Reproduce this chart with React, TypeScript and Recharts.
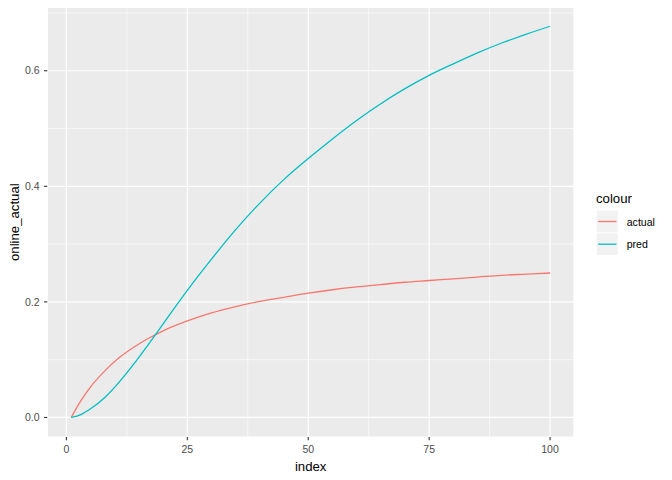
import {
  LineChart,
  Line,
  XAxis,
  YAxis,
  CartesianGrid,
  ReferenceLine,
  Legend
} from 'recharts';

// values
const indexValues = [1, 3, 5, 8, 11, 14, 17, 20, 25, 30, 35, 40, 45, 50, 55, 60, 65, 70, 75, 80, 85, 90, 95, 100];
const actualValues = [
  0, 0.029, 0.053, 0.081, 0.104, 0.122, 0.137, 0.15, 0.167, 0.181, 0.192, 0.201,
  0.208, 0.215, 0.221, 0.226, 0.23, 0.234, 0.237, 0.24, 0.243, 0.246, 0.248, 0.25
];
const predValues = [
  0, 0.005, 0.015, 0.035, 0.062, 0.093, 0.127, 0.162, 0.22, 0.274, 0.325, 0.371,
  0.412, 0.448, 0.482, 0.514, 0.543, 0.569, 0.592, 0.612, 0.631, 0.648, 0.663, 0.677
];

const xTicks = [0, 25, 50, 75, 100];
const yTicks = [0, 0.2, 0.4, 0.6];
const xMinor = [12.5, 37.5, 62.5, 87.5];
const yMinor = [0.1, 0.3, 0.5, 0.7];

const seriesNames = ['actual', 'pred'];
const seriesColors = ['#F8766D', '#00BFC4'];

const FONT = '"Liberation Sans", Arial, Helvetica, sans-serif';

const data = indexValues.map((x, i) => ({
  index: x,
  actual: actualValues[i],
  pred: predValues[i]
}));

const LegendBox = () => (
  <svg width={80} height={80} style={{ fontFamily: FONT, overflow: 'visible' }}>
    <text x={6} y={17.7} fontSize={13.2} fill="#000">colour</text>
    {seriesNames.map((name, i) => {
      const top = 25.7 + i * 22.7;
      return (
        <g key={name}>
          <rect x={6.7} y={top} width={21} height={21.6} fill="#F2F2F2" />
          <line x1={8.2} x2={26.5} y1={top + 10.8} y2={top + 10.8} stroke={seriesColors[i]} strokeWidth={1.3} />
          <text x={36.7} y={top + 10.8} dominantBaseline="central" fontSize={10.6} fill="#000">
            {name}
          </text>
        </g>
      );
    })}
  </svg>
);

export default function App() {
  return (
    <div style={{ position: 'absolute', left: 0, top: 0, width: 672, height: 480, background: '#fff' }}>
      <LineChart
        width={672}
        height={480}
        data={data}
        margin={{ top: 7.3, right: 98, left: 0, bottom: 0 }}
        style={{ fontFamily: FONT }}
      >
        <CartesianGrid fill="#EBEBEB" fillOpacity={1} stroke="#FFFFFF" strokeWidth={1.2} />
        {xMinor.map((v) => (
          <ReferenceLine key={'x' + v} x={v} stroke="#FFFFFF" strokeWidth={0.6} />
        ))}
        {yMinor.map((v) => (
          <ReferenceLine key={'y' + v} y={v} stroke="#FFFFFF" strokeWidth={0.6} />
        ))}
        <XAxis
          type="number"
          dataKey="index"
          domain={[-3.95, 104.95]}
          ticks={xTicks}
          allowDataOverflow
          height={43}
          axisLine={false}
          tickLine={{ stroke: '#333333', strokeWidth: 1.1 }}
          tickSize={3.3}
          tickMargin={5.5}
          tick={{ fill: '#4D4D4D', fontSize: 10.5 }}
          label={{ value: 'index', position: 'center', dy: 7.5, fill: '#000', fontSize: 13.2 }}
        />
        <YAxis
          type="number"
          domain={[-0.0338, 0.7098]}
          ticks={yTicks}
          allowDataOverflow
          width={47.3}
          axisLine={false}
          tickLine={{ stroke: '#333333', strokeWidth: 1.1 }}
          tickSize={3.3}
          tickMargin={4.5}
          tickFormatter={(v: number) => v.toFixed(1)}
          tick={{ fill: '#4D4D4D', fontSize: 10.5 }}
          label={{ value: 'online_actual', angle: -90, position: 'center', dx: -9.3, fill: '#000', fontSize: 13.2 }}
        />
        <Legend
          layout="vertical"
          align="center"
          verticalAlign="middle"
          wrapperStyle={{ left: 590, top: 185, width: 80, height: 80 }}
          content={() => <LegendBox />}
        />
        {seriesNames.map((name, i) => (
          <Line
            key={name}
            type="monotone"
            dataKey={name}
            stroke={seriesColors[i]}
            strokeWidth={1.3}
            dot={false}
            activeDot={false}
            isAnimationActive={false}
          />
        ))}
      </LineChart>
    </div>
  );
}
